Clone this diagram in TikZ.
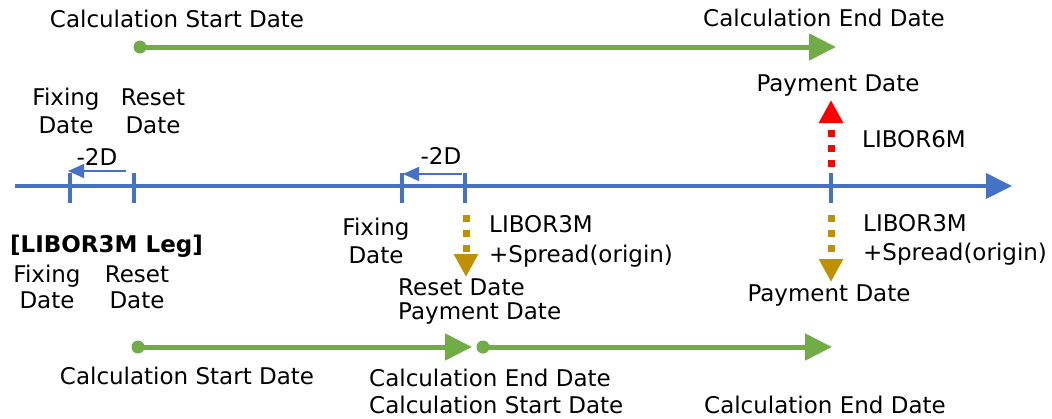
\documentclass[tikz,border=0pt]{standalone}
\usepackage{fontspec}
\setmainfont{DejaVu Sans}
\usetikzlibrary{arrows.meta}
\definecolor{cgreen}{HTML}{70AD47}
\definecolor{cblue}{HTML}{4472C4}
\definecolor{cred}{HTML}{FF0000}
\definecolor{cgold}{HTML}{BF9000}
\begin{document}
\begin{tikzpicture}[x=1pt,y=-1pt,
  lbl/.style={font=\fontsize{23}{28}\selectfont, inner sep=0pt, anchor=base, align=center},
  lbll/.style={font=\fontsize{23}{28}\selectfont, inner sep=0pt, anchor=base west, align=left},
  calcarrow/.style={draw=cgreen, line width=5pt, -{Triangle[length=27pt,width=26pt]}},
  gdot/.style={circle, fill=cgreen, minimum size=13pt, inner sep=0pt},
  axisline/.style={draw=cblue, line width=4pt, -{Triangle[length=26pt,width=25pt]}},
  tickline/.style={draw=cblue, line width=3.5pt},
  shiftarrow/.style={draw=cblue, line width=1.5pt, -{Triangle[length=16pt,width=14pt]}},
  rateup/.style={draw=cred, line width=7pt, dash pattern=on 7pt off 8pt, -{Triangle[length=23pt,width=23pt]}},
  ratedown/.style={draw=cgold, line width=7pt, dash pattern=on 7pt off 8pt, -{Triangle[length=23pt,width=23pt]}},
]
\useasboundingbox (0,0) rectangle (1052,418);

% top calculation period
\node[lbl] (csdTop) at (177,27) {Calculation Start Date};
\node[lbl] (cedTop) at (824,26) {Calculation End Date};
\node[gdot] (dTop) at (140,47) {};
\coordinate (eTop) at (836,47);
\draw[calcarrow] (dTop.center) -- (eTop);

\node[lbl] (payTop) at (838,91) {Payment Date};
\node[lbl] (fixTop) at (66,133) {Fixing\\Date};
\node[lbl] (resTop) at (153,133) {Reset\\Date};

% axis
\coordinate (ax0) at (15,186);
\coordinate (ax1) at (1012,186);
\draw[axisline] (ax0) -- (ax1);
\foreach \x/\n in {70/a,134/b,402/c,465/d,831/e}{
  \coordinate (tt\n) at (\x,173);
  \coordinate (tb\n) at (\x,203);
  \draw[tickline] (tt\n) -- (tb\n);
}

% -2D shifts
\coordinate (s1a) at (126,171);
\coordinate (s1b) at (68,171);
\draw[shiftarrow] (s1a) -- (s1b);
\node[lbl] (m2d1) at (97,165) {-2D};
\coordinate (s2a) at (462,174);
\coordinate (s2b) at (403,174);
\draw[shiftarrow] (s2a) -- (s2b);
\node[lbl] (m2d2) at (441,164) {-2D};

% rates
\coordinate (r0) at (831,167);
\coordinate (r1) at (831,100);
\draw[rateup] (r0) -- (r1);
\node[lbll] (l6m) at (862,147) {LIBOR6M};

\coordinate (g0) at (466,215);
\coordinate (g1) at (466,277);
\draw[ratedown] (g0) -- (g1);
\node[lbll, font=\fontsize{23}{30}\selectfont] (l3mMid) at (489,262) {LIBOR3M\\+Spread(origin)};

\coordinate (h0) at (831,215);
\coordinate (h1) at (831,282);
\draw[ratedown] (h0) -- (h1);
\node[lbll, font=\fontsize{23}{29}\selectfont] (l3mRight) at (863,260) {LIBOR3M\\+Spread(origin)};

\node[lbl] (fixMid) at (376,263) {Fixing\\Date};
\node[lbll, font=\fontsize{23}{24}\selectfont] (resPayMid) at (398,319) {Reset Date\\Payment Date};
\node[lbl] (payRight) at (829,301) {Payment Date};

% LIBOR3M leg
\node[lbll, font=\bfseries\fontsize{23}{28}\selectfont] (leg) at (10,252) {[LIBOR3M Leg]};
\node[lbl, font=\fontsize{23}{26}\selectfont] (fixLow) at (47,308) {Fixing\\Date};
\node[lbl, font=\fontsize{23}{26}\selectfont] (resLow) at (137,308) {Reset\\Date};

% bottom calculation periods
\node[gdot] (dB1) at (138,347) {};
\coordinate (eB1) at (472,347);
\draw[calcarrow] (dB1.center) -- (eB1);
\node[gdot] (dB2) at (483,347) {};
\coordinate (eB2) at (832,347);
\draw[calcarrow] (dB2.center) -- (eB2);

\node[lbl] (csdB) at (187,384) {Calculation Start Date};
\node[lbll, font=\fontsize{23}{27}\selectfont] (cedB) at (369,413) {Calculation End Date\\Calculation Start Date};
\node[lbl] (cedB2) at (825,413) {Calculation End Date};
\end{tikzpicture}
\end{document}
